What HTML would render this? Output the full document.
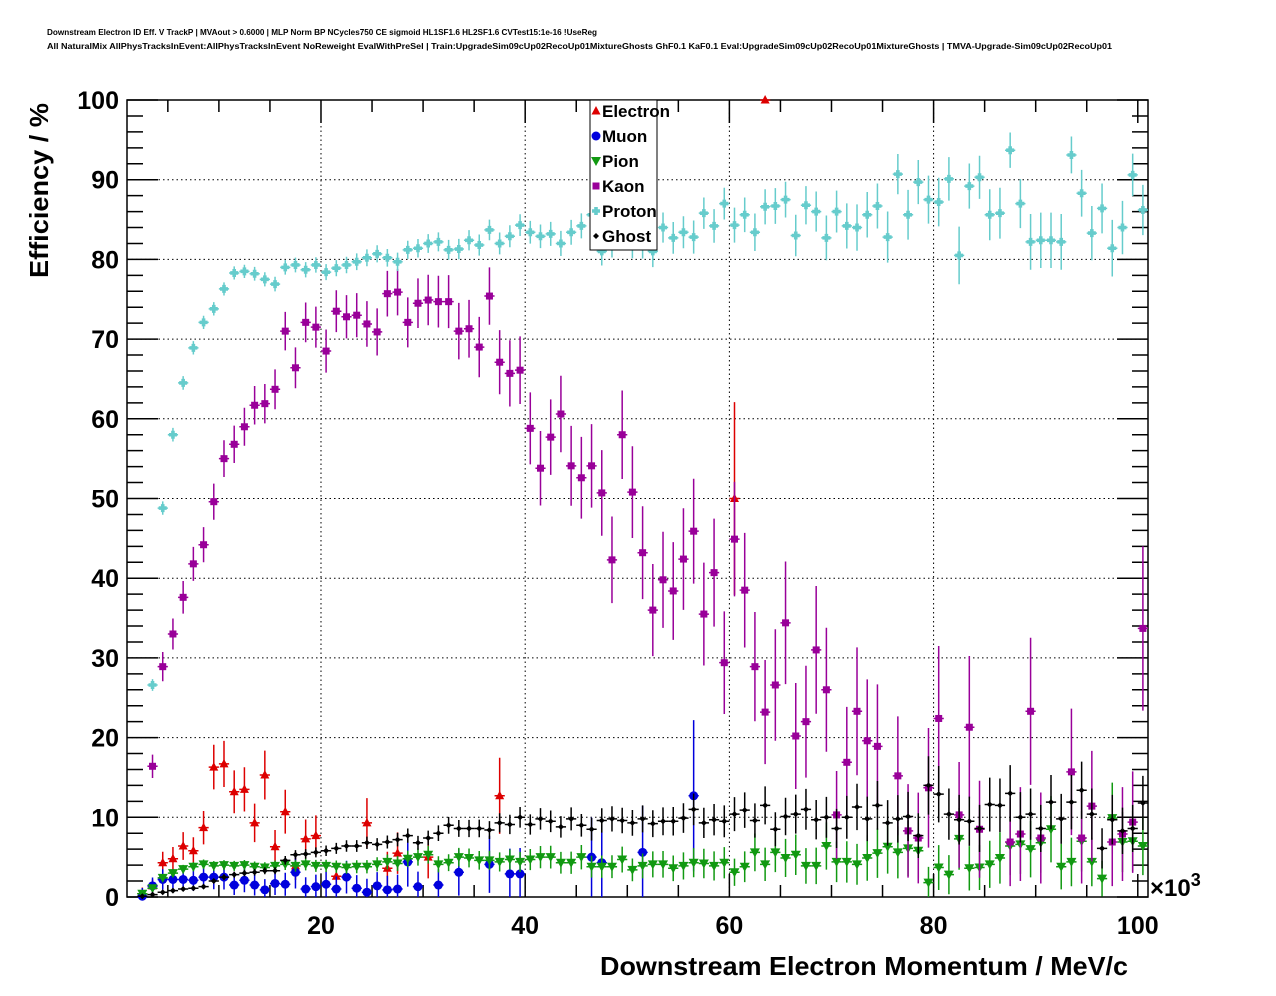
<!DOCTYPE html>
<html><head><meta charset="utf-8"><style>
body{margin:0;background:#fff;}
svg{display:block;font-family:"Liberation Sans",sans-serif;}
</style></head><body>
<svg id="c" width="1276" height="996" viewBox="0 0 1276 996">
<text x="47" y="35" font-size="8" font-weight="bold" textLength="550" lengthAdjust="spacingAndGlyphs">Downstream Electron ID Eff. V TrackP | MVAout &gt; 0.6000 | MLP Norm BP NCycles750 CE sigmoid HL1SF1.6 HL2SF1.6 CVTest15:1e-16 !UseReg</text>
<text x="47" y="49" font-size="8" font-weight="bold" textLength="1065" lengthAdjust="spacingAndGlyphs">All NaturalMix AllPhysTracksInEvent:AllPhysTracksInEvent NoReweight EvalWithPreSel | Train:UpgradeSim09cUp02RecoUp01MixtureGhosts GhF0.1 KaF0.1 Eval:UpgradeSim09cUp02RecoUp01MixtureGhosts | TMVA-Upgrade-Sim09cUp02RecoUp01</text>
<text x="600" y="975" font-size="26" font-weight="bold" textLength="528" lengthAdjust="spacingAndGlyphs">Downstream Electron Momentum / MeV/c</text>
<text transform="translate(48,278) rotate(-90)" font-size="26" font-weight="bold" textLength="175" lengthAdjust="spacingAndGlyphs">Efficiency / %</text>
<text x="1150" y="896" font-size="24" font-weight="bold">×10<tspan dy="-10" font-size="18">3</tspan></text>
<g id="grid"></g><g id="axes"></g><g id="marks"></g><g id="legend"></g>
</svg>
<script>
const xTicks=[20,40,60,80,100];
const yTicks=[0,10,20,30,40,50,60,70,80,90,100];
const seriesNames=["Electron","Muon","Pion","Kaon","Proton","Ghost"];
const N=null;
const electron=[N,0.4,1.4,4.3,4.8,6.4,5.8,8.7,16.3,16.7,13.2,13.5,9.3,15.3,6.3,10.7,3.9,7.3,7.7,N,2.6,N,N,9.3,N,3.6,5.5,N,N,5.0,N,N,N,N,N,N,12.7,N,N,N,N,N,N,N,N,N,N,N,N,N,N,N,N,N,N,N,N,N,N,50,N,N,100];
const muon=[N,0.1,1.4,2.2,2.2,2.2,2.1,2.5,2.5,2.5,1.5,2.1,1.5,0.9,1.7,1.6,3.1,1.0,1.3,1.6,1.0,2.5,1.1,0.6,1.4,0.9,1.0,4.4,1.3,N,1.5,N,3.1,N,N,4.1,N,2.9,2.9,N,N,N,N,N,N,5.0,4.3,N,N,N,5.6,N,N,N,N,12.7];
const pion=[N,0.4,1.1,2.4,3.0,3.5,3.8,4.1,3.9,4.0,3.9,4.0,3.8,3.7,3.9,4.1,3.9,4.1,3.9,3.9,3.8,3.7,3.8,3.8,4.1,4.4,4.2,4.8,5.0,5.3,4.1,4.3,5.0,4.9,4.6,4.6,4.4,4.7,4.4,4.7,5.0,5.0,4.3,4.3,5.0,3.8,3.8,3.8,4.7,3.4,3.9,4.1,4.1,3.6,3.9,4.3,4.2,3.9,4.3,3.1,3.8,5.6,4.1,5.6,4.9,5.3,3.9,3.9,6.4,4.4,4.4,4.1,4.9,5.5,6.3,5.6,6.1,5.8,1.8,3.7,2.8,7.3,3.6,3.7,4.1,4.9,6.4,6.6,6.0,6.8,8.5,3.8,4.4,7.0,4.4,2.3,9.9,6.9,7.0,6.4];
const kaon=[N,N,16.4,28.9,33,37.6,41.8,44.2,49.6,55,56.8,59,61.7,61.9,63.7,71,66.4,72.1,71.5,68.5,73.5,72.8,73,71.9,70.9,75.7,75.9,72.1,74.5,74.9,74.7,74.7,71,71.3,69,75.4,67.1,65.7,66.1,58.8,53.8,57.7,60.6,54.1,52.6,54.1,50.7,42.3,58,50.8,43.2,36,39.8,38.4,42.4,45.9,35.5,40.7,29.4,44.9,38.5,28.9,23.2,26.6,34.4,20.2,22,31,26,10.3,16.9,23.3,19.6,18.9,N,15.2,8.3,7.4,13.7,22.4,N,10.3,21.3,8.5,N,N,6.9,7.9,23.3,7.4,N,N,15.7,7.4,11.4,N,6.9,7.9,9.4,33.7];
const proton=[N,N,26.6,48.8,58,64.5,68.9,72.1,73.8,76.3,78.3,78.5,78.2,77.5,76.9,79,79.3,78.7,79.3,78.4,78.9,79.3,79.7,80.2,80.7,80.2,79.7,81.2,81.4,82,82.2,81.2,81.3,82.4,81.8,83.7,82,82.9,84.3,83.4,82.9,83.2,82,83.4,84.2,85.6,81,82,83,82,82,81,84,82.7,83.4,82.8,85.8,84.2,87,84.3,85.6,83.4,86.6,86.7,87.5,83,86.8,86,82.7,86,84.2,84,85.6,86.7,82.8,90.7,85.6,89.7,87.5,87.2,90.1,80.5,89.2,90.3,85.6,85.8,93.7,87,82.2,82.4,82.4,82.2,93.1,88.3,83.3,86.4,81.4,84,90.6,86.2];
const ghost=[N,0.1,0.3,0.6,0.8,1.0,1.1,1.3,2.0,2.5,2.8,3.0,3.1,3.3,3.3,4.6,5.3,5.4,5.6,5.8,6.1,6.4,6.4,6.8,6.6,6.9,7.2,7.7,6.8,7.4,8.0,9.0,8.6,8.6,8.6,8.4,9.3,9.1,10.0,9.1,9.8,9.5,8.8,9.8,9.0,8.5,9.6,9.8,9.6,9.3,9.8,9.2,9.5,9.5,9.9,11.0,9.3,9.7,9.5,10.4,10.9,9.6,11.5,8.5,10.1,10.4,11.0,9.7,10.0,8.6,10.0,11.3,9.8,11.5,9.3,9.8,10.1,7.7,14.0,12.9,10.4,9.7,9.5,8.6,11.6,11.5,13.0,10.0,10.4,8.6,11.9,9.8,11.9,13.4,10.4,6.1,9.7,8.3,8.6,11.8];

const X0=127,X1=1148,Y0=897,Y1=100,XMIN=1,XMAX=101;
const sx=v=>X0+(v-XMIN)/(XMAX-XMIN)*(X1-X0);
const sy=v=>Y0-(v/100)*(Y0-Y1);
const binX=i=>1.5+i;
const NS="http://www.w3.org/2000/svg";
function mk(tag,attrs,parent){const e=document.createElementNS(NS,tag);for(const k in attrs)e.setAttribute(k,attrs[k]);parent.appendChild(e);return e;}
const grid=document.getElementById('grid'),axes=document.getElementById('axes'),marks=document.getElementById('marks'),legend=document.getElementById('legend');

xTicks.forEach(t=>{
  if(t<100){const g=mk('line',{x1:sx(t),x2:sx(t),y1:Y0,y2:Y1,stroke:'#000','stroke-width':1,'stroke-dasharray':'1.5,3'},grid);
  
  }
  const l=mk('text',{x:sx(t),y:934,'font-size':25,'font-weight':'bold','text-anchor':'middle'},axes);l.textContent=t;
  
  
});
yTicks.forEach(t=>{
  if(t>0&&t<100){const g=mk('line',{x1:X0,x2:X1,y1:sy(t),y2:sy(t),stroke:'#000','stroke-width':1,'stroke-dasharray':'1.5,3'},grid);
  
  }
  const l=mk('text',{x:119,y:sy(t)+9,'font-size':25,'font-weight':'bold','text-anchor':'end'},axes);l.textContent=t;
  
  
});
let tk='';
for(let v=5;v<=100;v+=5){const L=(v%20===0)?23:12;tk+=`M${sx(v)},${Y0}v${-L}M${sx(v)},${Y1}v${L}`;}
for(let v=0;v<=100;v+=2){const L=(v%10===0)?31:16;tk+=`M${X0},${sy(v)}h${L}M${X1},${sy(v)}h${-L}`;}
const tp=mk('path',{d:tk,stroke:'#000','stroke-width':1.5,fill:'none'},axes);


const fr=mk('rect',{x:X0,y:Y1,width:X1-X0,height:Y0-Y1,fill:'none',stroke:'#000','stroke-width':1.5},axes);



const styles=[
 {c:'#dd0000',m:'tri',n:250},{c:'#0000dd',m:'circ',n:150},{c:'#119911',m:'tdown',n:1500},
 {c:'#990099',m:'sq',n:700},{c:'#66cccc',m:'plus',n:4000},{c:'#000000',m:'diam',n:3000}];
const dataSets=[electron,muon,pion,kaon,proton,ghost];
function marker(type,x,y,c,p){
  let e;
  if(type==='tri')e=mk('path',{d:`M${x},${y-5}L${x+4.5},${y+3.5}L${x-4.5},${y+3.5}Z`,fill:c},p);
  else if(type==='tdown')e=mk('path',{d:`M${x},${y+5}L${x+5},${y-4}L${x-5},${y-4}Z`,fill:c},p);
  else if(type==='circ')e=mk('circle',{cx:x,cy:y,r:4.5,fill:c},p);
  else if(type==='sq')e=mk('rect',{x:x-3.5,y:y-3.5,width:7,height:7,fill:c},p);
  else if(type==='plus')e=mk('path',{d:`M${x-1.8},${y-4}h3.6v2.2h2.2v3.6h-2.2v2.2h-3.6v-2.2h-2.2v-3.6h2.2Z`,fill:c},p);
  else e=mk('path',{d:`M${x},${y-3}L${x+3},${y}L${x},${y+3}L${x-3},${y}Z`,fill:c},p);
  return e;
}
dataSets.forEach((ds,si)=>{
  const st=styles[si];
  const g=mk('g',{},marks);
  
  
  ds.forEach((v,i)=>{
    if(v===null||v===undefined)return;
    const xv=binX(i),px=sx(xv),py=sy(v);
    const nEff=st.n*Math.max(0.03,Math.exp(-i/22));
    let err=Math.sqrt(Math.max(v*(100-v),150)/nEff);
    if(v>=99.9)err=0;
    const lo=Math.max(0,v-err),hi=Math.min(100,v+err);
    mk('path',{d:`M${sx(xv-0.5)},${py}H${sx(xv+0.5)}M${px},${sy(lo)}V${sy(hi)}`,stroke:st.c,'stroke-width':1.5,fill:'none'},g);
    const m=marker(st.m,px,py,st.c,g);
    
    
  });
});
const lb=mk('rect',{x:590,y:100,width:67,height:150,fill:'#fff',stroke:'#000','stroke-width':1},legend);


seriesNames.forEach((n,i)=>{
  const y=111+i*25;
  const g=mk('g',{},legend);
  
  
  marker(styles[i].m,596,y,styles[i].c,g);
  const t=mk('text',{x:602,y:y+6,'font-size':17,'font-weight':'bold'},g);t.textContent=n;
});
</script>
</body></html>
